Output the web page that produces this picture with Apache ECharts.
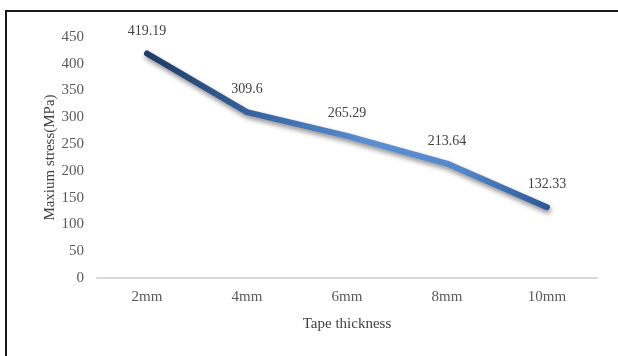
<!DOCTYPE html>
<html>
<head>
<meta charset="utf-8">
<script src="https://cdn.jsdelivr.net/npm/echarts@6/dist/echarts.min.js"></script>
<style>
  html, body { margin: 0; padding: 0; background: #fff; }
  #chart { width: 618px; height: 356px; }
</style>
</head>
<body>
<div id="chart"></div>
<script>
// Maximum stress against tape thickness
const categories = ['2mm', '4mm', '6mm', '8mm', '10mm'];
const stressValues = [419.19, 309.6, 265.29, 213.64, 132.33];
const yTicks = { min: 0, max: 450, interval: 50 };

const serif = '"Liberation Serif", "Times New Roman", serif';
const chart = echarts.init(document.getElementById('chart'));

chart.setOption({
  backgroundColor: '#ffffff',
  animation: false,
  graphic: [
    { type: 'line', shape: { x1: 6, y1: 11, x2: 618, y2: 11 }, style: { stroke: '#1a1a1a', lineWidth: 2 } },
    { type: 'line', shape: { x1: 6, y1: 10, x2: 6, y2: 356 }, style: { stroke: '#1a1a1a', lineWidth: 2 } }
  ],
  grid: { left: 97, right: 21, top: 37, bottom: 78 },
  xAxis: {
    type: 'category',
    data: categories,
    boundaryGap: true,
    name: 'Tape thickness',
    nameLocation: 'middle',
    nameGap: 39,
    nameTextStyle: { fontFamily: serif, fontSize: 15, color: '#404040' },
    axisLine: { lineStyle: { color: '#d9d9d9', width: 2 } },
    axisTick: { show: false },
    axisLabel: { fontFamily: serif, fontSize: 15, color: '#595959', margin: 12 }
  },
  yAxis: {
    type: 'value',
    min: yTicks.min,
    max: yTicks.max,
    interval: yTicks.interval,
    name: 'Maxium stress(MPa)',
    nameLocation: 'middle',
    nameGap: 39,
    nameMoveOverlap: false,
    nameTextStyle: { fontFamily: serif, fontSize: 15, color: '#404040' },
    axisLine: { show: false },
    axisTick: { show: false },
    splitLine: { show: false },
    axisLabel: { fontFamily: serif, fontSize: 15, color: '#595959', margin: 13 }
  },
  series: [{
    type: 'line',
    data: stressValues,
    symbol: 'circle',
    symbolSize: 1,
    itemStyle: { color: 'rgba(0,0,0,0)' },
    lineStyle: {
      width: 6,
      cap: 'round',
      join: 'round',
      color: {
        type: 'linear', x: 0, y: 0, x2: 1, y2: 0,
        colorStops: [
          { offset: 0, color: '#1f3a63' },
          { offset: 0.3, color: '#3a68a6' },
          { offset: 0.55, color: '#5b8fd2' },
          { offset: 0.78, color: '#5588cb' },
          { offset: 1, color: '#2b5796' }
        ]
      },
      shadowColor: 'rgba(0,0,0,0.45)',
      shadowBlur: 5,
      shadowOffsetX: 1,
      shadowOffsetY: 3
    },
    label: {
      show: true,
      position: 'top',
      distance: 15,
      fontFamily: serif,
      fontSize: 14,
      color: '#404040'
    }
  }]
});
</script>
</body>
</html>
